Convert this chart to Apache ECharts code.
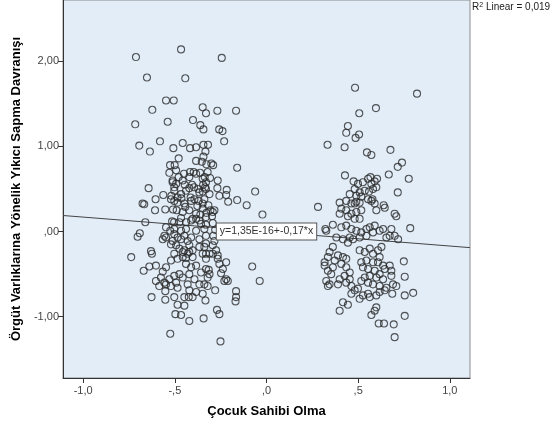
<!DOCTYPE html>
<html>
<head>
<meta charset="utf-8">
<script src="https://cdn.jsdelivr.net/npm/echarts@6/dist/echarts.min.js"></script>
<style>html,body{margin:0;padding:0;background:#fff}#main{width:555px;height:429px}</style>
</head>
<body>
<div id="main"></div>
<script>
// axis ticks
var xTicks = [-1, -0.5, 0, 0.5, 1];
var yTicks = [-1, 0, 1, 2];
var xRange = [-1.11, 1.11];
var yRange = [-1.72, 2.72];

// fit line
var intercept = 1.35e-16;
var slope = -0.17;
var fitLabel = 'y=1,35E-16+-0,17*x';
var r2Label = '0,019';

// residual points, group without children (left cloud)
var leftPoints = [
    [-0.712,2.05],[-0.466,2.14],[-0.244,2.04],[-0.652,1.81],[-0.443,1.80],[-0.548,1.54],[-0.506,1.54],[-0.623,1.43],
    [-0.348,1.46],[-0.330,1.39],[-0.268,1.42],[-0.166,1.42],[-0.716,1.26],[-0.539,1.29],[-0.401,1.31],[-0.361,1.25],
    [-0.344,1.20],[-0.258,1.20],[-0.240,1.18],[-0.694,1.01],[-0.636,0.94],[-0.581,1.06],[-0.508,0.98],[-0.457,1.04],
    [-0.417,0.98],[-0.384,0.99],[-0.344,1.02],[-0.319,1.02],[-0.231,1.06],[-0.333,0.94],[-0.344,0.88],[-0.479,0.86],
    [-0.384,0.83],[-0.526,0.78],[-0.501,0.78],[-0.530,0.69],[-0.353,0.82],[-0.328,0.79],[-0.301,0.80],[-0.291,0.78],
    [-0.160,0.75],[-0.450,0.68],[-0.417,0.70],[-0.397,0.70],[-0.362,0.69],[-0.479,0.64],[-0.337,0.64],[-0.308,0.63],
    [-0.266,0.60],[-0.512,0.58],[-0.493,0.56],[-0.503,0.52],[-0.446,0.55],[-0.406,0.55],[-0.395,0.52],[-0.372,0.50],
    [-0.421,0.51],[-0.346,0.55],[-0.335,0.52],[-0.348,0.47],[-0.643,0.51],[-0.268,0.51],[-0.217,0.49],[-0.220,0.43],
    [-0.209,0.35],[-0.062,0.47],[-0.160,0.37],[-0.108,0.31],[-0.022,0.20],[-0.676,0.33],[-0.667,0.32],[-0.605,0.38],
    [-0.563,0.43],[-0.608,0.25],[-0.552,0.26],[-0.519,0.42],[-0.503,0.36],[-0.485,0.40],[-0.464,0.39],[-0.448,0.33],
    [-0.443,0.29],[-0.510,0.26],[-0.490,0.25],[-0.414,0.40],[-0.393,0.38],[-0.370,0.36],[-0.377,0.30],[-0.348,0.33],
    [-0.317,0.31],[-0.306,0.25],[-0.284,0.25],[-0.328,0.22],[-0.361,0.20],[-0.297,0.18],[-0.661,0.11],[-0.548,0.05],
    [-0.515,0.12],[-0.504,0.11],[-0.466,0.16],[-0.439,0.11],[-0.411,0.13],[-0.384,0.15],[-0.357,0.09],[-0.330,0.08],
    [-0.293,0.10],[-0.493,0.72],[-0.512,0.60],[-0.457,0.60],[-0.421,0.64],[-0.384,0.68],[-0.348,0.62],[-0.503,0.48],
    [-0.466,0.44],[-0.439,0.48],[-0.366,0.46],[-0.330,0.50],[-0.521,0.38],[-0.485,0.34],[-0.411,0.36],[-0.339,0.38],
    [-0.475,0.11],[-0.403,0.15],[-0.366,0.13],[-0.330,0.17],[-0.457,0.23],[-0.421,0.25],[-0.384,0.21],[-0.348,0.27],
    [-0.503,0.03],[-0.439,0.03],[-0.384,0.01],[-0.339,0.03],[-0.466,-0.09],[-0.411,-0.07],[-0.366,-0.09],[-0.330,-0.05],
    [-0.493,-0.16],[-0.421,-0.16],[-0.366,-0.18],[-0.330,-0.14],[-0.457,-0.24],[-0.403,-0.22],[-0.348,-0.26],[-0.330,-0.32],
    [-0.691,-0.02],[-0.703,-0.06],[-0.630,-0.23],[-0.625,-0.26],[-0.738,-0.30],[-0.557,-0.05],[-0.548,-0.07],[-0.566,-0.09],
    [-0.525,0.01],[-0.503,-0.03],[-0.485,-0.07],[-0.512,-0.11],[-0.521,-0.15],[-0.466,0.01],[-0.448,-0.05],[-0.430,-0.11],
    [-0.475,-0.20],[-0.448,-0.22],[-0.421,-0.24],[-0.403,-0.30],[-0.439,-0.31],[-0.670,-0.46],[-0.639,-0.41],[-0.603,-0.40],
    [-0.566,-0.47],[-0.548,-0.42],[-0.521,-0.34],[-0.503,-0.26],[-0.485,-0.32],[-0.603,-0.58],[-0.576,-0.54],[-0.557,-0.60],
    [-0.530,-0.56],[-0.503,-0.52],[-0.475,-0.50],[-0.493,-0.60],[-0.585,-0.64],[-0.548,-0.62],[-0.521,-0.64],[-0.552,-0.70],
    [-0.485,-0.66],[-0.627,-0.77],[-0.552,-0.80],[-0.503,-0.77],[-0.485,-0.86],[-0.448,-0.77],[-0.424,-0.77],[-0.403,-0.77],
    [-0.448,-0.87],[-0.497,-0.97],[-0.466,-0.98],[-0.421,-1.05],[-0.343,-1.02],[-0.333,-0.81],[-0.525,-1.20],[-0.457,-0.30],
    [-0.430,-0.26],[-0.439,-0.38],[-0.411,-0.42],[-0.384,-0.40],[-0.357,-0.48],[-0.330,-0.44],[-0.421,-0.50],[-0.393,-0.56],
    [-0.366,-0.62],[-0.339,-0.62],[-0.430,-0.62],[-0.457,-0.54],[-0.421,-0.69],[-0.384,-0.71],[-0.348,-0.73],[-0.078,-0.41],
    [-0.037,-0.58],[-0.166,-0.70],[-0.166,-0.77],[-0.169,-0.82],[-0.230,-0.58],[-0.211,-0.58],[-0.220,-0.56],[-0.280,-0.69],
    [-0.270,-0.92],[-0.257,-0.97],[-0.251,-1.29],[-0.248,-0.49],[-0.238,-0.44],[-0.220,-0.36],[-0.257,-0.38],[-0.266,-0.32],
    [-0.293,-0.26],[-0.315,-0.45],[-0.311,-0.50],[-0.321,-0.54],[-0.321,-0.64],[-0.330,-0.26],[-0.284,-0.11],[-0.293,-0.16],
    [-0.275,-0.22],[-0.311,-0.26],[-0.339,-0.18],[-0.266,-0.28],[-0.321,0.70],[-0.330,0.58],[-0.311,0.44],[-0.257,0.42],
    [-0.293,0.23],[-0.280,0.02],[-0.290,-0.05]
];

// residual points, group with children (right cloud)
var rightPoints = [
    [0.483,1.69],[0.821,1.62],[0.597,1.45],[0.506,1.39],[0.444,1.24],[0.435,1.16],[0.505,1.14],[0.486,1.10],
    [0.333,1.02],[0.426,0.99],[0.548,0.93],[0.572,0.90],[0.676,0.96],[0.739,0.81],[0.716,0.76],[0.428,0.66],
    [0.667,0.67],[0.776,0.62],[0.716,0.46],[0.475,0.59],[0.499,0.56],[0.526,0.58],[0.554,0.62],[0.567,0.64],
    [0.590,0.59],[0.603,0.62],[0.572,0.56],[0.481,0.50],[0.508,0.46],[0.536,0.48],[0.559,0.47],[0.581,0.50],
    [0.599,0.52],[0.454,0.44],[0.490,0.42],[0.517,0.41],[0.554,0.38],[0.578,0.38],[0.399,0.34],[0.481,0.33],
    [0.508,0.34],[0.590,0.33],[0.639,0.31],[0.281,0.29],[0.435,0.36],[0.463,0.33],[0.490,0.35],[0.572,0.36],
    [0.408,0.27],[0.435,0.25],[0.463,0.21],[0.490,0.23],[0.517,0.25],[0.508,0.15],[0.481,0.15],[0.444,0.18],
    [0.399,0.21],[0.599,0.25],[0.645,0.28],[0.699,0.21],[0.708,0.18],[0.321,0.03],[0.326,0.01],[0.362,0.08],
    [0.408,0.05],[0.435,0.07],[0.463,0.03],[0.490,0.01],[0.517,-0.01],[0.545,0.03],[0.563,0.05],[0.590,0.07],
    [0.581,-0.01],[0.545,-0.05],[0.508,-0.07],[0.472,-0.09],[0.444,-0.13],[0.454,-0.07],[0.381,-0.07],[0.417,-0.09],
    [0.617,0.01],[0.636,0.03],[0.654,-0.07],[0.672,-0.05],[0.681,0.03],[0.718,-0.09],[0.699,-0.05],[0.784,0.04],
    [0.362,-0.18],[0.344,-0.24],[0.335,-0.30],[0.317,-0.36],[0.317,-0.40],[0.335,-0.46],[0.353,-0.50],[0.326,-0.58],
    [0.344,-0.62],[0.335,-0.64],[0.362,-0.42],[0.390,-0.28],[0.372,-0.34],[0.417,-0.30],[0.435,-0.32],[0.408,-0.38],
    [0.435,-0.42],[0.454,-0.48],[0.426,-0.52],[0.454,-0.56],[0.399,-0.56],[0.390,-0.62],[0.435,-0.60],[0.463,-0.64],
    [0.481,-0.69],[0.499,-0.67],[0.463,-0.73],[0.526,-0.75],[0.563,-0.77],[0.554,-0.73],[0.508,-0.79],[0.508,-0.22],
    [0.536,-0.24],[0.563,-0.20],[0.581,-0.26],[0.608,-0.22],[0.627,-0.18],[0.617,-0.30],[0.608,-0.36],[0.636,-0.40],
    [0.581,-0.36],[0.545,-0.34],[0.517,-0.36],[0.526,-0.42],[0.554,-0.44],[0.590,-0.46],[0.617,-0.50],[0.645,-0.44],
    [0.672,-0.40],[0.681,-0.46],[0.681,-0.52],[0.636,-0.56],[0.599,-0.54],[0.563,-0.52],[0.536,-0.54],[0.517,-0.58],
    [0.554,-0.60],[0.581,-0.62],[0.617,-0.64],[0.654,-0.66],[0.690,-0.62],[0.708,-0.64],[0.617,-0.71],[0.599,-0.75],
    [0.645,-0.69],[0.749,-0.35],[0.754,-0.53],[0.800,-0.72],[0.754,-0.75],[0.417,-0.83],[0.444,-0.86],[0.399,-0.93],
    [0.599,-0.89],[0.590,-0.93],[0.572,-0.98],[0.612,-1.08],[0.641,-1.08],[0.694,-1.09],[0.754,-0.99],[0.699,-1.24],
    [0.686,-0.73]
];

var fontFam = '"Liberation Sans", Arial, sans-serif';

function fmtX(v) {
    return v.toFixed(1).replace('.', ',').replace(/^(-?)0,/, '$1,');
}
function fmtY(v) {
    return v.toFixed(2).replace('.', ',').replace(/^(-?)0,/, '$1,');
}

var fitLine = [
    [xRange[0], intercept + slope * xRange[0]],
    [xRange[1], intercept + slope * xRange[1]]
];

var pointStyle = {
    color: 'rgba(0,0,0,0)',
    borderColor: '#2a2a2a',
    borderWidth: 1.1
};

var myChart = echarts.init(document.getElementById('main'));
var option = {
    animation: false,
    textStyle: { fontFamily: fontFam },
    grid: {
        left: 63, right: 85, top: 0, bottom: 51,
        show: true,
        backgroundColor: '#E2EDF8',
        borderColor: '#8a8a8a',
        borderWidth: 1
    },
    xAxis: {
        type: 'value',
        min: xRange[0], max: xRange[1],
        name: 'Çocuk Sahibi Olma',
        nameLocation: 'middle',
        nameGap: 27,
        nameTextStyle: { fontSize: 13, fontWeight: 'bold', color: '#000', fontFamily: fontFam },
        axisLine: { onZero: false, lineStyle: { color: '#333', width: 1 } },
        axisTick: { show: true, length: 5, customValues: xTicks, lineStyle: { color: '#333' } },
        axisLabel: { customValues: xTicks, formatter: fmtX, color: '#444', fontSize: 11, margin: 7 },
        splitLine: { show: false }
    },
    yAxis: {
        type: 'value',
        min: yRange[0], max: yRange[1],
        name: 'Örgüt Varlıklarına Yönelik Yıkıcı Sapma Davranışı',
        nameLocation: 'middle',
        nameGap: 34,
        nameTextStyle: { fontSize: 13, fontWeight: 'bold', color: '#000', fontFamily: fontFam },
        axisLine: { show: true, onZero: false, lineStyle: { color: '#333', width: 1 } },
        axisTick: { show: true, length: 5, customValues: yTicks, lineStyle: { color: '#333' } },
        axisLabel: { customValues: yTicks, formatter: fmtY, color: '#444', fontSize: 11, margin: 4 },
        splitLine: { show: false }
    },
    graphic: [{
        type: 'text',
        left: 472,
        top: 2,
        style: {
            text: 'R{sup|2} Linear = ' + r2Label,
            fontSize: 10,
            fontFamily: fontFam,
            fill: '#222',
            rich: {
                sup: { fontSize: 7, verticalAlign: 'top', padding: [0, 0, 4, 0] }
            }
        }
    }],
    series: [{
        type: 'line',
        data: fitLine,
        symbol: 'none',
        lineStyle: { color: '#444', width: 1 },
        z: 1,
        markPoint: {
            symbol: 'rect',
            symbolSize: 0,
            data: [{ coord: [0, intercept] }],
            label: {
                show: true,
                position: 'inside',
                formatter: fitLabel,
                backgroundColor: '#fff',
                borderColor: '#555',
                borderWidth: 1,
                padding: [3, 3, 2, 3],
                color: '#333',
                fontSize: 10.5,
                fontFamily: fontFam
            }
        }
    }, {
        type: 'scatter',
        data: leftPoints,
        symbol: 'circle',
        symbolSize: 7,
        itemStyle: pointStyle,
        z: 2
    }, {
        type: 'scatter',
        data: rightPoints,
        symbol: 'circle',
        symbolSize: 7,
        itemStyle: pointStyle,
        z: 2
    }]
};
myChart.setOption(option);
</script>
</body>
</html>
